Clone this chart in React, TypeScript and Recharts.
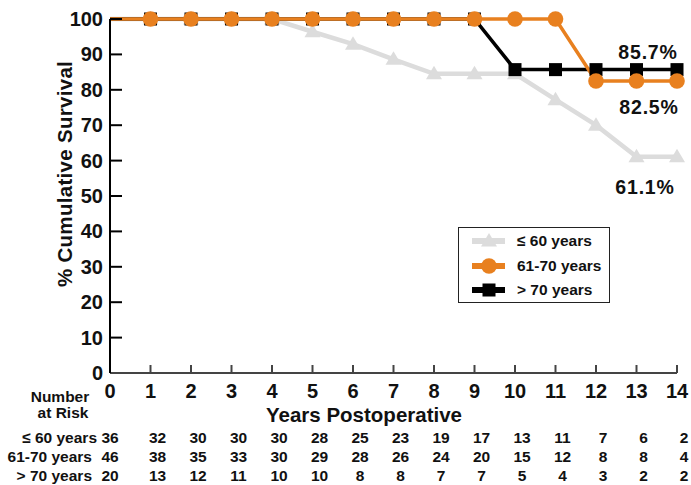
import React from 'react';
import { LineChart, Line, XAxis, YAxis, Legend, LabelList } from 'recharts';

// Follow-up years and Kaplan-Meier survival (%) per age group
const years = [0, 1, 2, 3, 4, 5, 6, 7, 8, 9, 10, 11, 12, 13, 14];
const survivalUpTo60 = [100, 100, 100, 100, 100, 96.4, 92.9, 88.6, 84.5, 84.5, 84.5, 77.2, 70.0, 61.1, 61.1];
const survival61to70 = [100, 100, 100, 100, 100, 100, 100, 100, 100, 100, 100, 100, 82.5, 82.5, 82.5];
const survivalOver70 = [100, 100, 100, 100, 100, 100, 100, 100, 100, 100, 85.7, 85.7, 85.7, 85.7, 85.7];

// Number at risk at each year
const riskUpTo60 = [36, 32, 30, 30, 30, 28, 25, 23, 19, 17, 13, 11, 7, 6, 2];
const risk61to70 = [46, 38, 35, 33, 30, 29, 28, 26, 24, 20, 15, 12, 8, 8, 4];
const riskOver70 = [20, 13, 12, 11, 10, 10, 8, 8, 7, 7, 5, 4, 3, 2, 2];

const groupNames = ['≤ 60 years', '61-70 years', '> 70 years'];
const yTicks = [0, 10, 20, 30, 40, 50, 60, 70, 80, 90, 100];

const FONT = '"Liberation Sans", Arial, Helvetica, sans-serif';
const GREY = '#dcdcdc';
const ORANGE = '#e8801f';
const BLACK = '#000000';

const data = years.map((year, i) => ({
  year,
  g60: survivalUpTo60[i],
  g6170: survival61to70[i],
  g70: survivalOver70[i],
}));

const riskRows = [riskUpTo60, risk61to70, riskOver70];

type MarkerKind = 'triangle' | 'circle' | 'square';

const Marker = ({ kind, cx, cy, fill }: { kind: MarkerKind; cx: number; cy: number; fill: string }) => {
  if (kind === 'triangle') {
    return (
      <polygon
        points={`${cx},${cy - 8} ${cx + 8},${cy + 5.5} ${cx - 8},${cy + 5.5}`}
        fill={fill}
      />
    );
  }
  if (kind === 'circle') {
    return <circle cx={cx} cy={cy} r={7.8} fill={fill} />;
  }
  return <rect x={cx - 6.5} y={cy - 6.5} width={13} height={13} fill={fill} />;
};

const makeDot = (kind: MarkerKind, fill: string) => (props: any) => {
  const { cx, cy, index } = props;
  if (index === 0 || cx == null || cy == null) return <g key={`d-${kind}-${index}`} />;
  return (
    <g key={`d-${kind}-${index}`}>
      <Marker kind={kind} cx={cx} cy={cy} fill={fill} />
    </g>
  );
};

const makeEndLabel = (dx: number, dy: number) => (props: any) => {
  const { x, y, value, index } = props;
  if (index !== years.length - 1) return null;
  return (
    <text
      x={Number(x) + dx}
      y={Number(y) + dy}
      textAnchor="middle"
      fontFamily={FONT}
      fontWeight="bold"
      fontSize={19.5}
      letterSpacing={0.8}
      fill="#111"
    >
      {`${Number(value).toFixed(1)}%`}
    </text>
  );
};

const XTick = (props: any) => {
  const { x, y, payload } = props;
  const i = payload.value as number;
  const dx = i === 0 ? 0 : 7;
  return (
    <g fontFamily={FONT} fontWeight="bold" fill="#111">
      {i !== 0 && <line x1={x} y1={y} x2={x} y2={y - 8} stroke="#444" strokeWidth={2} />}
      <text x={x} y={y + 25} textAnchor="middle" fontSize={20}>
        {i}
      </text>
      {riskRows.map((row, r) => (
        <text key={r} x={x + dx} y={y + 69.5 + r * 19} textAnchor="middle" fontSize={15.5}>
          {row[i]}
        </text>
      ))}
      {i === 0 && (
        <g fontSize={15.5}>
          <text x={x - 50} y={y + 28.5} textAnchor="middle">Number</text>
          <text x={x - 47} y={y + 45} textAnchor="middle">at Risk</text>
          {groupNames.map((name, r) => (
            <text key={name} x={x - (r === 0 ? 13 : 18)} y={y + 69.5 + r * 19} textAnchor="end">
              {name}
            </text>
          ))}
        </g>
      )}
    </g>
  );
};

const YTick = (props: any) => {
  const { x, y, payload } = props;
  const v = payload.value as number;
  return (
    <g fontFamily={FONT} fontWeight="bold" fill="#111">
      {v !== 0 && <line x1={x} y1={y} x2={x + 12} y2={y} stroke="#000" strokeWidth={2} />}
      <text x={x - 7} y={y + 7} textAnchor="end" fontSize={20}>
        {v}
      </text>
    </g>
  );
};

const seriesStyle: Record<string, { kind: MarkerKind; color: string }> = {
  [groupNames[0]]: { kind: 'triangle', color: GREY },
  [groupNames[1]]: { kind: 'circle', color: ORANGE },
  [groupNames[2]]: { kind: 'square', color: BLACK },
};

const LegendBox = (props: any) => {
  const payload = (props.payload || []) as any[];
  const ordered = groupNames
    .map((n) => payload.find((p) => p.value === n))
    .filter(Boolean);
  return (
    <div
      style={{
        width: 152,
        height: 76,
        boxSizing: 'border-box',
        border: '1.5px solid #222',
        background: '#fff',
        fontFamily: FONT,
        fontWeight: 'bold',
        fontSize: 15.5,
        color: '#111',
        paddingTop: 1,
      }}
    >
      {ordered.map((p: any) => {
        const st = seriesStyle[p.value];
        return (
          <div key={p.value} style={{ display: 'flex', alignItems: 'center', height: 24.5 }}>
            <svg width={58} height={24} style={{ display: 'block' }}>
              <line x1={13} y1={12} x2={46} y2={12} stroke={st.color} strokeWidth={6} />
              <Marker kind={st.kind} cx={30} cy={12} fill={st.color} />
            </svg>
            <span style={{ lineHeight: '24px' }}>{p.value}</span>
          </div>
        );
      })}
    </div>
  );
};

export default function App() {
  return (
    <div style={{ position: 'absolute', left: 0, top: 0, background: '#fff' }}>
      <LineChart
        width={691}
        height={485}
        data={data}
        margin={{ top: 19, right: 14, bottom: 0, left: 0 }}
        style={{ fontFamily: FONT }}
      >
        <XAxis
          dataKey="year"
          type="number"
          domain={[0, 14]}
          ticks={years}
          height={112}
          tickSize={0}
          tickMargin={0}
          tickLine={false}
          tick={<XTick />}
          axisLine={{ stroke: '#444', strokeWidth: 2 }}
          interval={0}
          label={(p: any) => {
            const vb = p.viewBox;
            return (
              <text
                x={vb.x + vb.width / 2 - 29.5}
                y={vb.y + 49}
                textAnchor="middle"
                fontFamily={FONT}
                fontWeight="bold"
                fontSize={20.5}
                fill="#111"
              >
                Years Postoperative
              </text>
            );
          }}
        />
        <YAxis
          type="number"
          domain={[0, 100]}
          ticks={yTicks}
          width={110}
          tickSize={0}
          tickMargin={0}
          tickLine={false}
          tick={<YTick />}
          axisLine={{ stroke: '#000', strokeWidth: 2 }}
          interval={0}
          label={(p: any) => {
            const vb = p.viewBox;
            const cx = 64;
            const cy = vb.y + vb.height / 2 - 22;
            return (
              <text
                x={cx}
                y={cy}
                transform={`rotate(-90 ${cx} ${cy})`}
                textAnchor="middle"
                dominantBaseline="central"
                fontFamily={FONT}
                fontWeight="bold"
                fontSize={20.5}
                letterSpacing={0.3}
                fill="#111"
              >
                % Cumulative Survival
              </text>
            );
          }}
        />
        <Legend
          layout="horizontal"
          verticalAlign="middle"
          align="center"
          content={<LegendBox />}
          wrapperStyle={{ left: 458, top: 227, width: 152, height: 76 }}
        />
        <Line
          type="linear"
          dataKey="g60"
          name={groupNames[0]}
          stroke={GREY}
          strokeWidth={4.5}
          dot={makeDot('triangle', GREY)}
          activeDot={false}
          isAnimationActive={false}
        >
          <LabelList dataKey="g60" content={makeEndLabel(-32, 37)} />
        </Line>
        <Line
          type="linear"
          dataKey="g70"
          name={groupNames[2]}
          stroke={BLACK}
          strokeWidth={3.5}
          dot={makeDot('square', BLACK)}
          activeDot={false}
          isAnimationActive={false}
        >
          <LabelList dataKey="g70" content={makeEndLabel(-29, -10.5)} />
        </Line>
        <Line
          type="linear"
          dataKey="g6170"
          name={groupNames[1]}
          stroke={ORANGE}
          strokeWidth={3.5}
          dot={makeDot('circle', ORANGE)}
          activeDot={false}
          isAnimationActive={false}
        >
          <LabelList dataKey="g6170" content={makeEndLabel(-28, 33)} />
        </Line>
      </LineChart>
    </div>
  );
}
